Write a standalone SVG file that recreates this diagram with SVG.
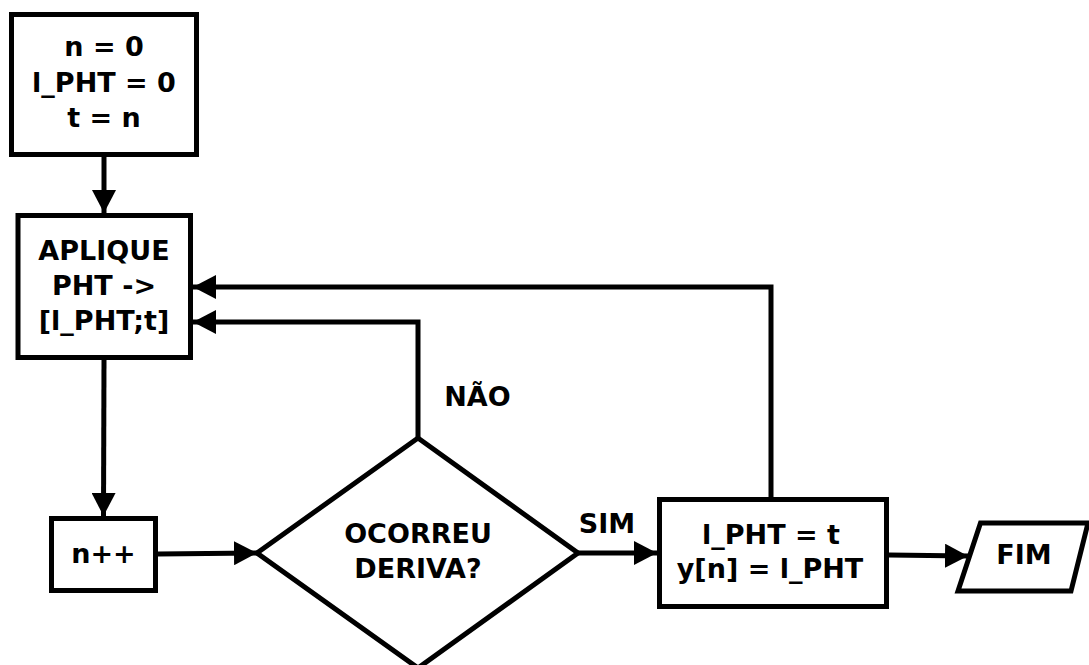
<svg xmlns="http://www.w3.org/2000/svg" width="1089" height="665" viewBox="0 0 1089 665">
<style>
.shape{fill:#fff;stroke:#000;stroke-width:5;stroke-linejoin:miter}
.conn{fill:none;stroke:#000;stroke-width:5}
text{font-family:"DejaVu Sans","Liberation Sans",sans-serif;font-weight:bold;font-size:27px;fill:#000;text-anchor:middle}
</style>
<defs>
<marker id="ah" markerUnits="userSpaceOnUse" viewBox="0 0 23 24" markerWidth="23" markerHeight="24" refX="23" refY="12" orient="auto">
<path d="M0,0 L23,12 L0,24 Z" fill="#000"/>
</marker>
</defs>
<rect width="1089" height="665" fill="#fff"/>
<g id="connectors">
<line class="conn" x1="104" y1="157" x2="104" y2="213" marker-end="url(#ah)"/>
<line class="conn" x1="104" y1="360" x2="103.5" y2="516" marker-end="url(#ah)"/>
<line class="conn" x1="158" y1="554" x2="257" y2="553" marker-end="url(#ah)"/>
<line class="conn" x1="578" y1="553" x2="657" y2="553" marker-end="url(#ah)"/>
<line class="conn" x1="889" y1="555" x2="968" y2="556" marker-end="url(#ah)"/>
<path class="conn" d="M418,438 V322 H193" marker-end="url(#ah)"/>
<path class="conn" d="M771,497 V287 H193" marker-end="url(#ah)"/>
<text x="477.5" y="406">NÃO</text>
<text x="607" y="533">SIM</text>
</g>
<g id="init">
<rect class="shape" x="11.5" y="14.5" width="185" height="140"/>
<text x="104" y="56">n = 0</text>
<text x="104" y="92">l_PHT = 0</text>
<text x="104" y="127">t = n</text>
</g>
<g id="aplique">
<rect class="shape" x="18" y="215.5" width="172.5" height="142"/>
<text x="104" y="260">APLIQUE</text>
<text x="104" y="295">PHT -&gt;</text>
<text x="104" y="330">[l_PHT;t]</text>
</g>
<g id="incr">
<rect class="shape" x="51.5" y="518.5" width="104" height="72"/>
<text x="103.5" y="563">n++</text>
</g>
<g id="decision">
<polygon class="shape" points="257,553 418,438 578,553 418,668"/>
<text x="418" y="543">OCORREU</text>
<text x="418" y="578">DERIVA?</text>
</g>
<g id="update">
<rect class="shape" x="659.5" y="499.5" width="227" height="107"/>
<text x="771" y="544">l_PHT = t</text>
<text x="770" y="578">y[n] = l_PHT</text>
</g>
<g id="fim">
<polygon class="shape" points="980.5,523 1088,523 1071,591 958,591"/>
<text x="1024" y="564">FIM</text>
</g>
</svg>
